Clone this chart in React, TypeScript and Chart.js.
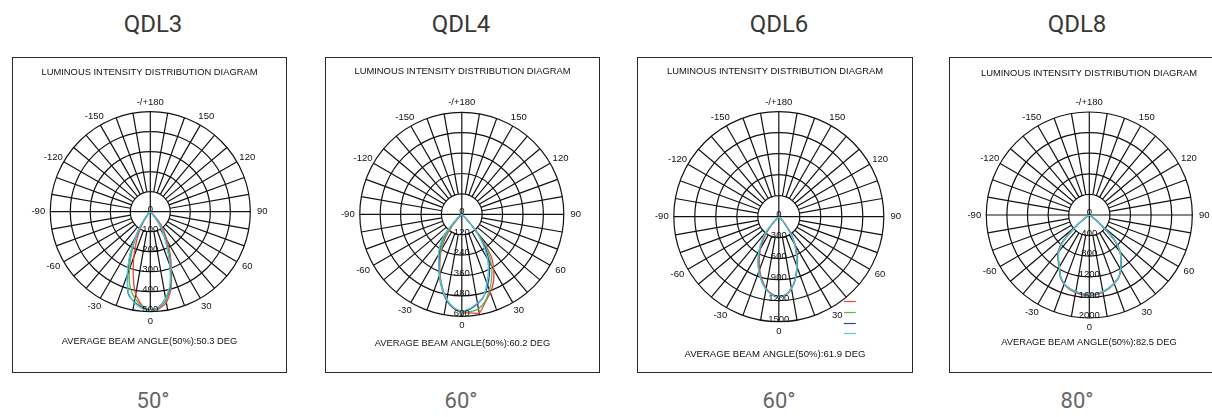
import React, { useEffect, useRef } from "react";
import { Chart, registerables } from "chart.js";
Chart.register(...registerables);

// ---------- DATA ----------
const ANGLES = [-70, -65, -60, -55, -50, -45, -40, -35, -30, -25, -20, -15, -10, -5, 0, 5, 10, 15, 20, 25, 30, 35, 40, 45, 50, 55, 60, 65, 70];

const ANGLE_TICKS = [0, 30, 60, 90, 120, 150, 180, -150, -120, -90, -60, -30];
const ANGLE_TICK_LABELS = ["0", "30", "60", "90", "120", "150", "-/+180", "-150", "-120", "-90", "-60", "-30"];

const SERIES_COLORS = ["#e8423f", "#5bb94b", "#2e4b9b", "#5cc6d6"];

const QDL3_RINGS = [0, 100, 200, 300, 400, 500];
const QDL3_RED = [0, 0, 0, 0, 0, 0, 15, 55, 105, 165, 240, 330, 420, 470, 492, 488, 462, 400, 308, 235, 168, 118, 75, 25, 0, 0, 0, 0, 0];
const QDL3_GREEN = [0, 0, 0, 0, 0, 8, 25, 70, 135, 215, 305, 390, 440, 475, 493, 482, 450, 392, 300, 215, 150, 95, 45, 10, 0, 0, 0, 0, 0];
const QDL3_BLUE = [0, 0, 0, 0, 0, 10, 30, 80, 150, 240, 330, 425, 458, 480, 494, 480, 440, 385, 290, 205, 140, 85, 38, 10, 0, 0, 0, 0, 0];
const QDL3_CYAN = [0, 0, 0, 0, 0, 12, 35, 85, 150, 245, 340, 420, 462, 485, 495, 480, 440, 380, 285, 200, 135, 85, 40, 10, 0, 0, 0, 0, 0];

const QDL4_RINGS = [0, 120, 240, 360, 480, 600];
const QDL4_RED = [0, 0, 0, 0, 5, 20, 90, 170, 240, 305, 375, 445, 510, 555, 578, 582, 590, 535, 490, 440, 375, 300, 150, 40, 5, 0, 0, 0, 0];
const QDL4_GREEN = [0, 0, 0, 0, 5, 30, 110, 185, 250, 310, 378, 445, 510, 555, 575, 575, 565, 530, 475, 415, 350, 270, 150, 40, 5, 0, 0, 0, 0];
const QDL4_BLUE = [0, 0, 0, 0, 8, 55, 145, 215, 268, 318, 385, 452, 515, 555, 572, 560, 535, 500, 445, 385, 320, 240, 135, 40, 5, 0, 0, 0, 0];
const QDL4_CYAN = [0, 0, 0, 0, 10, 70, 160, 225, 275, 320, 385, 450, 510, 550, 570, 555, 530, 500, 430, 370, 300, 220, 130, 40, 5, 0, 0, 0, 0];

const QDL6_RINGS = [0, 300, 600, 900, 1200, 1500];
const QDL6_RED = [0, 0, 0, 0, 0, 40, 200, 370, 520, 660, 800, 930, 1040, 1110, 1145, 1125, 1045, 920, 770, 630, 470, 310, 150, 40, 0, 0, 0, 0, 0];
const QDL6_GREEN = [0, 0, 0, 0, 0, 60, 240, 400, 550, 690, 825, 945, 1050, 1115, 1148, 1120, 1040, 915, 760, 610, 460, 305, 155, 40, 0, 0, 0, 0, 0];
const QDL6_BLUE = [0, 0, 0, 0, 0, 70, 255, 410, 560, 695, 830, 948, 1052, 1118, 1150, 1120, 1040, 915, 755, 605, 455, 300, 150, 45, 0, 0, 0, 0, 0];
const QDL6_CYAN = [0, 0, 0, 0, 0, 80, 270, 420, 570, 700, 835, 950, 1055, 1120, 1150, 1120, 1040, 915, 750, 600, 450, 300, 150, 50, 0, 0, 0, 0, 0];

const QDL8_RINGS = [0, 400, 800, 1200, 1600, 2000];
const QDL8_RED = [0, 0, 0, 100, 340, 740, 950, 1060, 1170, 1330, 1430, 1490, 1530, 1555, 1560, 1550, 1520, 1475, 1415, 1345, 1225, 1075, 930, 690, 300, 70, 0, 0, 0];
const QDL8_GREEN = [0, 0, 0, 90, 320, 720, 935, 1050, 1165, 1325, 1425, 1482, 1518, 1540, 1548, 1538, 1512, 1470, 1412, 1342, 1222, 1072, 932, 700, 310, 75, 0, 0, 0];
const QDL8_BLUE = [0, 0, 0, 85, 310, 705, 925, 1045, 1162, 1322, 1422, 1478, 1512, 1532, 1542, 1532, 1508, 1467, 1410, 1340, 1220, 1070, 930, 700, 315, 78, 0, 0, 0];
const QDL8_CYAN = [0, 0, 0, 80, 300, 700, 920, 1040, 1160, 1320, 1420, 1475, 1510, 1530, 1540, 1530, 1505, 1465, 1410, 1340, 1220, 1070, 930, 700, 320, 80, 0, 0, 0];

const TITLE_TEXT = "LUMINOUS INTENSITY DISTRIBUTION DIAGRAM";
const MODEL_NAMES = ["QDL3", "QDL4", "QDL6", "QDL8"];
const BEAM_LABELS = ["50°", "60°", "60°", "80°"];
const BEAM_TEXTS = [
  "AVERAGE BEAM ANGLE(50%):50.3 DEG",
  "AVERAGE BEAM ANGLE(50%):60.2 DEG",
  "AVERAGE BEAM ANGLE(50%):61.9 DEG",
  "AVERAGE BEAM ANGLE(50%):82.5 DEG",
];

// ---------- LAYOUT ----------
const FONT = "'Liberation Sans', Arial, sans-serif";
const TITLE_SIZE = 9.4;

const PANELS = [
  { rings: QDL3_RINGS, series: [QDL3_RED, QDL3_GREEN, QDL3_BLUE, QDL3_CYAN], box: { left: 12, top: 57, w: 275, h: 316 }, cx: 150.3, cy: 211.7, R: 100, titleY: 72, subY: 341, subSize: 9.3, legend: false },
  { rings: QDL4_RINGS, series: [QDL4_RED, QDL4_GREEN, QDL4_BLUE, QDL4_CYAN], box: { left: 325, top: 57, w: 275, h: 316 }, cx: 461.8, cy: 214.3, R: 102, titleY: 71.7, subY: 343.3, subSize: 9.3, legend: false },
  { rings: QDL6_RINGS, series: [QDL6_RED, QDL6_GREEN, QDL6_BLUE, QDL6_CYAN], box: { left: 637, top: 57, w: 276, h: 316 }, cx: 778.8, cy: 216.7, R: 105, titleY: 71.7, subY: 354.3, subSize: 9.6, legend: true },
  { rings: QDL8_RINGS, series: [QDL8_RED, QDL8_GREEN, QDL8_BLUE, QDL8_CYAN], box: { left: 949, top: 57, w: 280, h: 316 }, cx: 1089.3, cy: 215, R: 103, titleY: 73.3, subY: 342.3, subSize: 9.3, legend: false },
];
const COLUMN_CENTERS = [153, 461, 779, 1077];

const GRID_COLOR = "#111";

const polarGridPlugin = {
  id: "polarGrid",
  beforeDatasetsDraw(chart: any, _args: any, opts: any) {
    const { ctx } = chart;
    const xs = chart.scales.x;
    const ys = chart.scales.y;
    const cx = xs.getPixelForValue(0);
    const cy = ys.getPixelForValue(0);
    const R = cy - ys.getPixelForValue(opts.max);
    ctx.save();
    ctx.strokeStyle = GRID_COLOR;
    ctx.lineWidth = 1.2;
    for (let k = 1; k <= 5; k++) {
      ctx.beginPath();
      ctx.arc(cx, cy, (k * R) / 5, 0, Math.PI * 2);
      ctx.stroke();
    }
    for (let a = 0; a < 360; a += 10) {
      const rad = (a * Math.PI) / 180;
      const dx = Math.sin(rad);
      const dy = Math.cos(rad);
      const r0 = a % 90 === 0 ? 0 : R / 5;
      ctx.beginPath();
      ctx.moveTo(cx + dx * r0, cy + dy * r0);
      ctx.lineTo(cx + dx * R, cy + dy * R);
      ctx.stroke();
    }
    ctx.fillStyle = "#111";
    ctx.font = `9.5px ${FONT}`;
    ctx.textAlign = "center";
    ctx.textBaseline = "middle";
    ANGLE_TICKS.forEach((a, i) => {
      const rad = (a * Math.PI) / 180;
      const rx = R + 12;
      const ry = R + 9.5;
      ctx.fillText(ANGLE_TICK_LABELS[i], cx + Math.sin(rad) * rx, cy + Math.cos(rad) * ry);
    });
    ctx.restore();
  },
  afterDatasetsDraw(chart: any, _args: any, opts: any) {
    const { ctx } = chart;
    const xs = chart.scales.x;
    const ys = chart.scales.y;
    const cx = xs.getPixelForValue(0);
    const cy = ys.getPixelForValue(0);
    const R = cy - ys.getPixelForValue(opts.max);
    ctx.save();
    ctx.fillStyle = "#111";
    ctx.font = `9.5px ${FONT}`;
    ctx.textAlign = "center";
    ctx.textBaseline = "middle";
    (opts.rings as number[]).forEach((v) => {
      const py = ys.getPixelForValue(-v);
      ctx.fillText(String(v), cx, py - 2.5);
    });
    if (opts.legend) {
      const right = cx + R;
      const bottom = cy + R;
      chart.data.datasets.forEach((ds: any, i: number) => {
        const y = Math.round(bottom - 20.5 + i * 10.7) + 0.5;
        ctx.strokeStyle = ds.borderColor;
        ctx.lineWidth = 1.2;
        ctx.beginPath();
        ctx.moveTo(right - 40, y);
        ctx.lineTo(right - 28, y);
        ctx.stroke();
      });
    }
    ctx.restore();
  },
};

function PolarPanel({ idx }: { idx: number }) {
  const ref = useRef<HTMLCanvasElement>(null);
  const p = PANELS[idx];
  const W = p.box.w - 2;
  const H = p.box.h - 2;
  useEffect(() => {
    if (!ref.current) return;
    const innerLeft = p.box.left + 1;
    const innerTop = p.box.top + 1;
    const cxRel = p.cx - innerLeft;
    const cyRel = p.cy - innerTop;
    const lhT = TITLE_SIZE * 1.2;
    const lhS = p.subSize * 1.2;
    const tTop = p.titleY - innerTop - lhT / 2;
    const tBottom = cyRel - p.R - tTop - lhT;
    const sTop = p.subY - (p.cy + p.R) - lhS / 2;
    const sBottom = H - (cyRel + p.R) - sTop - lhS;
    const max = p.rings[p.rings.length - 1];
    const xMin = -(cxRel / p.R) * max;
    const xMax = ((W - cxRel) / p.R) * max;
    const n = p.series.length;
    const datasets = p.series.map((vals, si) => ({
      data: ANGLES.map((a, i) => {
        const rad = (a * Math.PI) / 180;
        return { x: vals[i] * Math.sin(rad), y: -vals[i] * Math.cos(rad) };
      }),
      showLine: true,
      borderColor: SERIES_COLORS[si],
      backgroundColor: SERIES_COLORS[si],
      borderWidth: 1.3,
      pointRadius: 0,
      fill: false,
      tension: 0.2,
      clip: false,
      order: n - 1 - si,
    }));
    const chart = new Chart(ref.current, {
      type: "scatter",
      data: { datasets },
      options: {
        responsive: false,
        animation: false,
        events: [],
        layout: { padding: 0 },
        scales: {
          x: { type: "linear", min: xMin, max: xMax, display: false },
          y: { type: "linear", min: -max, max: max, display: false },
        },
        plugins: {
          legend: { display: false },
          tooltip: { enabled: false },
          title: {
            display: true,
            text: TITLE_TEXT,
            color: "#111",
            font: { family: FONT, size: TITLE_SIZE, weight: "normal", lineHeight: 1.2 },
            padding: { top: tTop, bottom: tBottom },
          },
          subtitle: {
            display: true,
            position: "bottom",
            text: BEAM_TEXTS[idx],
            color: "#111",
            font: { family: FONT, size: p.subSize, weight: "normal", lineHeight: 1.2 },
            padding: { top: sTop, bottom: sBottom },
          },
          polarGrid: { max, rings: p.rings, legend: p.legend },
        } as any,
      },
      plugins: [polarGridPlugin],
    });
    return () => chart.destroy();
  }, []);
  return (
    <div
      style={{
        position: "absolute",
        left: p.box.left,
        top: p.box.top,
        width: p.box.w,
        height: p.box.h,
        border: "1px solid #2a2a2a",
        boxSizing: "border-box",
        background: "#fff",
      }}
    >
      <canvas ref={ref} width={W} height={H} style={{ display: "block", width: W, height: H }} />
    </div>
  );
}

export default function App() {
  return (
    <div
      style={{
        position: "fixed",
        left: 0,
        top: 0,
        width: 1212,
        height: 417,
        overflow: "hidden",
        background: "#fff",
      }}
    >
      {MODEL_NAMES.map((name, i) => (
        <div
          key={"h" + i}
          style={{
            position: "absolute",
            left: COLUMN_CENTERS[i] - 100,
            width: 200,
            top: 12,
            textAlign: "center",
            fontFamily: "Roboto, sans-serif",
            fontSize: 24,
            lineHeight: "25px",
            color: "#383838",
          }}
        >
          {name}
        </div>
      ))}
      {PANELS.map((_, i) => (
        <PolarPanel key={"p" + i} idx={i} />
      ))}
      {BEAM_LABELS.map((t, i) => (
        <div
          key={"f" + i}
          style={{
            position: "absolute",
            left: COLUMN_CENTERS[i] - 100,
            width: 200,
            top: 390,
            textAlign: "center",
            fontFamily: "Roboto, sans-serif",
            fontSize: 22,
            lineHeight: "22.5px",
            color: "#666",
          }}
        >
          {t}
        </div>
      ))}
    </div>
  );
}
